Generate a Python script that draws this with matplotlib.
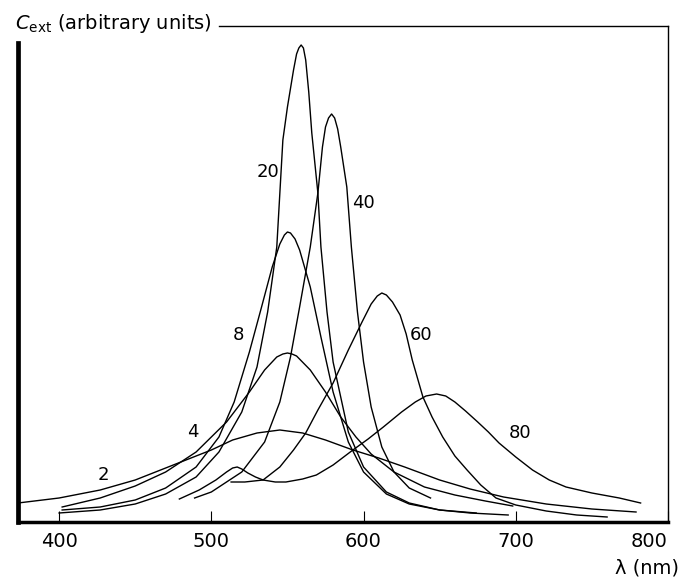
import matplotlib.pyplot as plt

# extinction spectra: wavelength (nm) / C_ext (arbitrary units)
wl_2 = [373, 400, 427, 450, 470, 490, 500, 514, 530, 545, 560, 575, 593, 610, 627,
        650, 670, 692, 720, 750, 779]
c_2 = [19, 24, 32, 42, 54, 66, 72, 82, 89, 92, 89, 82, 72, 64, 55, 42, 33, 25, 18, 13, 10]

wl_4 = [402, 427, 450, 470, 490, 510, 525, 535, 543, 547, 550, 553, 556, 565, 575,
        585, 595, 605, 620, 640, 660, 680, 698]
c_4 = [15, 24, 36, 50, 70, 100, 130, 152, 165, 168, 169, 168, 166, 152, 130, 105, 85,
       68, 50, 35, 27, 21, 16]

wl_8 = [402, 427, 450, 470, 490, 505, 515, 525, 533, 540, 545, 548, 550, 552, 555,
        558, 565, 572, 580, 590, 600, 615, 630, 650, 670, 695]
c_8 = [12, 15, 22, 34, 55, 85, 120, 170, 215, 255, 278, 287, 290, 289, 283, 272, 235,
       185, 130, 80, 50, 28, 18, 12, 9, 7]

wl_20 = [400, 427, 450, 470, 490, 505, 520, 530, 537, 543, 547, 550, 554, 556, 557.5,
         559, 560.5, 562, 564, 566, 570, 572, 576, 580, 590, 600, 615, 630, 650, 674]
c_20 = [9, 12, 18, 28, 45, 70, 110, 155, 210, 275, 382, 415, 452, 468, 474, 477, 474,
        462, 430, 389, 329, 275, 210, 160, 90, 55, 30, 19, 12, 9]

wl_40 = [489, 500, 520, 535, 545, 552, 558, 565, 570, 573, 575, 577, 579, 581, 583,
         585, 589, 592, 596, 600, 605, 612, 620, 630, 644]
c_40 = [24, 30, 50, 80, 120, 165, 215, 275, 329, 375, 395, 404, 408, 404, 393, 375,
        335, 275, 210, 160, 115, 75, 50, 34, 24]

wl_60 = [513, 522, 534, 545, 554, 562, 570, 580, 590, 599, 605, 609, 612, 615, 619,
         624, 628, 632, 639, 645, 652, 660, 668, 677, 687, 700, 720, 740, 760]
c_60 = [40, 40, 42, 55, 72, 89, 112, 139, 172, 200, 218, 226, 229, 227, 220, 207, 188,
        162, 125, 105, 85, 66, 52, 37, 24, 17, 11, 7, 5]

wl_80 = [479, 492, 503, 510, 514, 517, 520, 524, 529, 534, 542, 549, 560, 569, 580,
         593, 603, 613, 625, 634, 641, 648, 654, 660, 667, 675, 682, 689, 700, 711, 722,
         733, 750, 768, 782]
c_80 = [23, 32, 42, 50, 54, 55, 53, 49, 45, 42, 40, 40, 43, 47, 57, 72, 83, 95, 110, 120,
        126, 128, 126, 120, 111, 100, 90, 79, 65, 52, 42, 35, 29, 24, 19]

radii = ['2', '4', '8', '20', '40', '60', '80']
label_wl = [429, 488, 518, 537, 600, 638, 703]
label_c = [47, 90, 187, 350, 319, 187, 89]

fig = plt.figure(figsize=(6.8, 5.79), dpi=100)
ax = fig.add_axes([18 / 680, 57 / 579, 650 / 680, 496 / 579])

for wl, c in [(wl_2, c_2), (wl_4, c_4), (wl_8, c_8), (wl_20, c_20),
              (wl_40, c_40), (wl_60, c_60), (wl_80, c_80)]:
    ax.plot(wl, c, color='black', lw=1.0, solid_joinstyle='round')

for lab, x, y in zip(radii, label_wl, label_c):
    ax.text(x, y, lab, fontsize=13, ha='center', va='center')

ax.set_xlim(373, 800)
ax.set_ylim(0, 496)
ax.set_xticks([400, 500, 600, 700, 800])
ax.set_xticklabels(['400', '500', '600', '700', '800'], fontsize=14)
ax.get_xticklabels()[-1].set_ha('right')
ax.set_yticks([])
ax.tick_params(axis='x', direction='in', length=8, width=0.8, pad=7)
ax.spines['left'].set_linewidth(3.4)
ax.spines['left'].set_bounds(0, 479)
ax.spines['bottom'].set_linewidth(2.5)
ax.spines['right'].set_linewidth(1.0)
ax.spines['top'].set_visible(False)

# top frame line begins right after the axis title
ax.plot([505, 800], [496, 496], color='black', lw=1.0, clip_on=False)
ax.text(-0.005, 1.006, r'$C_{\mathrm{ext}}$ (arbitrary units)', transform=ax.transAxes,
        fontsize=14, ha='left', va='center')
ax.text(1.017, -0.093, 'λ (nm)', transform=ax.transAxes,
        fontsize=14, ha='right', va='center')

fig.savefig('out.png', dpi=100)
